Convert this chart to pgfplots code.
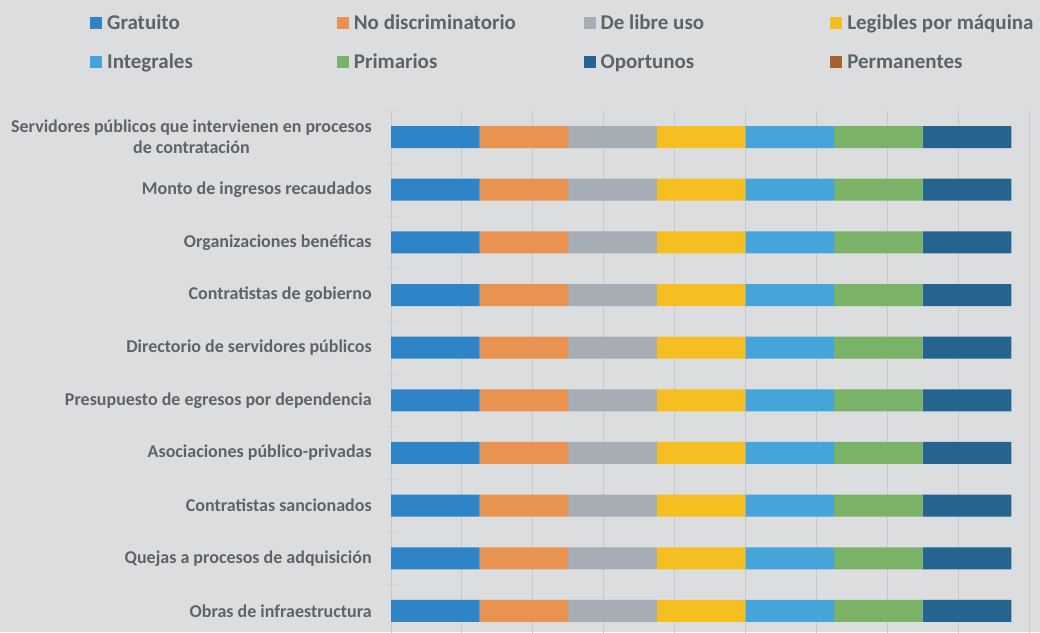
\documentclass[border=0pt]{standalone}
\usepackage{fontspec}
\setmainfont{Carlito}
\usepackage{pgfplots}
\usepackage{pgfplotstable}
\pgfplotsset{compat=1.18}
\definecolor{bg}{HTML}{DCDDDF}
\definecolor{txt}{HTML}{5E6368}
\definecolor{gridc}{HTML}{C6C8CB}
\definecolor{cA}{HTML}{2E84C6}
\definecolor{cB}{HTML}{E89352}
\definecolor{cC}{HTML}{A6ADB4}
\definecolor{cD}{HTML}{F5BF22}
\definecolor{cE}{HTML}{45A5DA}
\definecolor{cF}{HTML}{7AB368}
\definecolor{cG}{HTML}{25648F}
\definecolor{cH}{HTML}{A5622E}
\pgfplotstableread{
y Gratuito NoDisc Libre Legibles Integrales Primarios Oportunos Permanentes
0 1 1 1 1 1 1 1 0
1 1 1 1 1 1 1 1 0
2 1 1 1 1 1 1 1 0
3 1 1 1 1 1 1 1 0
4 1 1 1 1 1 1 1 0
5 1 1 1 1 1 1 1 0
6 1 1 1 1 1 1 1 0
7 1 1 1 1 1 1 1 0
8 1 1 1 1 1 1 1 0
9 1 1 1 1 1 1 1 0
}\data
\begin{document}
\begin{tikzpicture}[x=1pt,y=1pt]
\fill[bg] (0,0) rectangle (1040,632);
\begin{axis}[
  at={(391pt,-5.3pt)}, anchor=south west,
  scale only axis, width=638pt, height=526.6pt,
  xbar stacked, bar width=22pt,
  xmin=0, xmax=7.2,
  xtick={0,0.8,1.6,2.4,3.2,4,4.8,5.6,6.4,7.2},
  xticklabels={}, xtick style={draw=none},
  xmajorgrids, major grid style={gridc, line width=1pt},
  ymin=-0.5, ymax=9.5, y dir=reverse,
  ytick={0,...,9},
  yticklabels={{Servidores públicos que intervienen en procesos\\de contratación},
    Monto de ingresos recaudados, Organizaciones benéficas, Contratistas de gobierno,
    Directorio de servidores públicos, Presupuesto de egresos por dependencia,
    Asociaciones público-privadas, Contratistas sancionados,
    Quejas a procesos de adquisición, Obras de infraestructura},
  ytick style={draw=none},
  minor ytick={-0.5,0.5,...,9.5},
  minor y tick style={draw=gray!35, line width=1pt},
  minor tick length=12pt, tick align=center, ytick pos=left,
  yticklabel style={font=\fontsize{18}{21}\selectfont\bfseries, text=txt, align=center, inner sep=0pt, xshift=-17pt},
  axis line style={draw=none},
  legend columns=4,
  legend cell align=left,
  legend image code/.code={\fill[#1,draw=none] (0pt,-4.2pt) rectangle (12pt,7.5pt);},
  legend style={at={(axis description cs:-0.4718,1.1812)}, anchor=north west,
    draw=none, fill=none, inner sep=0pt, row sep=20pt,
    font=\fontsize{21}{25}\selectfont\bfseries, text=txt,
    nodes={inner sep=0pt, text height=14pt, text depth=5pt},
    /tikz/every odd column/.style={column sep=5pt},
    /tikz/every even column/.style={column sep=0pt}},
]
\addplot[fill=cA, draw=none] table[x=Gratuito, y=y] {\data};
\addplot[fill=cB, draw=none] table[x=NoDisc, y=y] {\data};
\addplot[fill=cC, draw=none] table[x=Libre, y=y] {\data};
\addplot[fill=cD, draw=none] table[x=Legibles, y=y] {\data};
\addplot[fill=cE, draw=none] table[x=Integrales, y=y] {\data};
\addplot[fill=cF, draw=none] table[x=Primarios, y=y] {\data};
\addplot[fill=cG, draw=none] table[x=Oportunos, y=y] {\data};
\addplot[fill=cH, draw=none] table[x=Permanentes, y=y] {\data};
\legend{\makebox[229.7pt][l]{Gratuito},\makebox[229.7pt][l]{No discriminatorio},\makebox[229.7pt][l]{De libre uso},\makebox[229.7pt][l]{Legibles por máquina},
  \makebox[229.7pt][l]{Integrales},\makebox[229.7pt][l]{Primarios},\makebox[229.7pt][l]{Oportunos},\makebox[229.7pt][l]{Permanentes}}
\end{axis}
\pgfresetboundingbox
\useasboundingbox (0,0) rectangle (1040,632);
\end{tikzpicture}
\end{document}
